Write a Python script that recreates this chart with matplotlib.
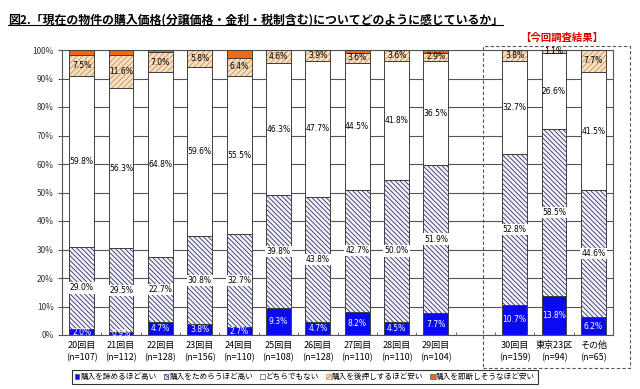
import matplotlib
matplotlib.use("Agg")
import matplotlib.pyplot as plt
from matplotlib.patches import Patch, Rectangle
from matplotlib.lines import Line2D
import numpy as np

plt.rcParams['font.family'] = ['Noto Sans CJK JP', 'DejaVu Sans']
plt.rcParams['hatch.linewidth'] = 0.6

categories = ["20回目\n(n=107)", "21回目\n(n=112)", "22回目\n(n=128)", "23回目\n(n=156)",
              "24回目\n(n=110)", "25回目\n(n=108)", "26回目\n(n=128)", "27回目\n(n=110)",
              "28回目\n(n=110)", "29回目\n(n=104)", "",
              "30回目\n(n=159)", "東京23区\n(n=94)", "その他\n(n=65)"]

# None = empty slot between the past surveys and the current one
very_high = [2.0, 0.9, 4.7, 3.8, 2.7, 9.3, 4.7, 8.2, 4.5, 7.7, None, 10.7, 13.8, 6.2]
high = [29.0, 29.5, 22.7, 30.8, 32.7, 39.8, 43.8, 42.7, 50.0, 51.9, None, 52.8, 58.5, 44.6]
neutral = [59.8, 56.3, 64.8, 59.6, 55.5, 46.3, 47.7, 44.5, 41.8, 36.5, None, 32.7, 26.6, 41.5]
cheap = [7.5, 11.6, 7.0, 5.8, 6.4, 4.6, 3.9, 3.6, 3.6, 2.9, None, 3.8, 1.1, 7.7]
very_cheap = [1.7, 1.7, 0.8, 0.0, 2.7, 0.0, 0.0, 1.0, 0.1, 1.0, None, 0.0, 0.0, 0.0]

series_names = ["購入を諦めるほど高い", "購入をためらうほど高い", "どちらでもない",
                "購入を後押しするほど安い", "購入を即断しそうなほど安い"]

title = "図2.「現在の物件の購入価格(分譲価格・金利・税制含む)についてどのように感じているか」"

styles = [
    dict(fc="#0a0af0", hatch=None, hc=None, label=True, tc="white", box=False),
    dict(fc="#f4f4fa", hatch="\\\\\\\\\\\\\\", hc="#30306e", label=True, tc="black", box=True),
    dict(fc="white", hatch=None, hc=None, label=True, tc="black", box=False),
    dict(fc="#f8e0c0", hatch="//////", hc="#c89060", label=True, tc="black", box=False),
    dict(fc="#f26a10", hatch=None, hc=None, label=False, tc="black", box=False),
]

fig = plt.figure(figsize=(6.4, 3.89), dpi=100)
ax = fig.add_axes([62 / 640, 1 - 335 / 389, (613 - 62) / 640, (335 - 50) / 389])

x = np.arange(len(categories))
width = 0.63
bottoms = np.zeros(len(categories))
all_series = [very_high, high, neutral, cheap, very_cheap]

for vals, st in zip(all_series, styles):
    for i, v in enumerate(vals):
        if v is None or v <= 0:
            continue
        b = bottoms[i]
        if st["hatch"]:
            ax.bar(x[i], v, width, bottom=b, color=st["fc"], edgecolor=st["hc"],
                   hatch=st["hatch"], linewidth=0, zorder=2)
        else:
            ax.bar(x[i], v, width, bottom=b, color=st["fc"], linewidth=0, zorder=2)
        ax.bar(x[i], v, width, bottom=b, fill=False, edgecolor="#404040",
               linewidth=0.7, zorder=3)
        if st["label"]:
            bbox = dict(boxstyle="square,pad=0.15", fc="white", ec="none") if st["box"] else None
            ax.text(x[i], b + v / 2, f"{v:.1f}%", ha="center", va="center",
                    fontsize=5.5, color=st["tc"], bbox=bbox, zorder=4,
                    family=['DejaVu Sans'])
        bottoms[i] += v

ax.set_xlim(-0.5, len(categories) - 0.5)
ax.set_ylim(0, 100)
ax.set_yticks(np.arange(0, 101, 10))
ax.set_yticklabels([f"{t}%" for t in range(0, 101, 10)], fontsize=6, color="#333333")
ax.set_xticks(x)
ax.set_xticklabels(categories, fontsize=6.5, linespacing=1.5)
ax.tick_params(axis="x", length=0, pad=4)
ax.tick_params(axis="y", length=3, color="#555555", pad=3)
ax.set_xticks(np.arange(-0.5, len(categories), 1), minor=True)
ax.tick_params(axis="x", which="minor", length=2, direction="in", color="#555555")
ax.yaxis.grid(True, color="#555555", linewidth=0.8, zorder=0)
ax.set_axisbelow(True)
for s in ax.spines.values():
    s.set_color("#555555")
    s.set_linewidth(0.8)

# dashed box around the current survey
fig.patches.append(Rectangle((483 / 640, 1 - 368 / 389), (630 - 483) / 640, (368 - 46) / 389,
                             transform=fig.transFigure, fill=False, ls=(0, (3, 2)),
                             ec="#555555", lw=0.8))
fig.text(562 / 640, 1 - 38 / 389, "【今回調査結果】", color="#e00000", fontsize=7.5,
         fontweight="bold", ha="center", va="center")

# title with underline
t = fig.text(8 / 640, 1 - 20 / 389, title, fontsize=8.6, fontweight="bold",
             ha="left", va="center")
fig.canvas.draw()
bb = t.get_window_extent().transformed(fig.transFigure.inverted())
fig.add_artist(Line2D([bb.x0, bb.x1], [bb.y0 + 0.004, bb.y0 + 0.004],
                      transform=fig.transFigure, color="black", lw=0.8))

handles = []
for name, st in zip(series_names, styles):
    if st["hatch"]:
        handles.append(Patch(facecolor=st["fc"], edgecolor=st["hc"], hatch=st["hatch"],
                             linewidth=0.5, label=name))
    else:
        handles.append(Patch(facecolor=st["fc"], edgecolor="#555555", linewidth=0.5, label=name))
leg = fig.legend(handles=handles, loc="center", bbox_to_anchor=(305 / 640, 1 - 377 / 389),
                 ncol=5, fontsize=5.5, frameon=True, fancybox=False, edgecolor="black",
                 handlelength=0.6, handleheight=0.6, handletextpad=0.15, columnspacing=0.9,
                 borderpad=0.35)
leg.get_frame().set_linewidth(0.8)

fig.savefig("out.png", dpi=100)
